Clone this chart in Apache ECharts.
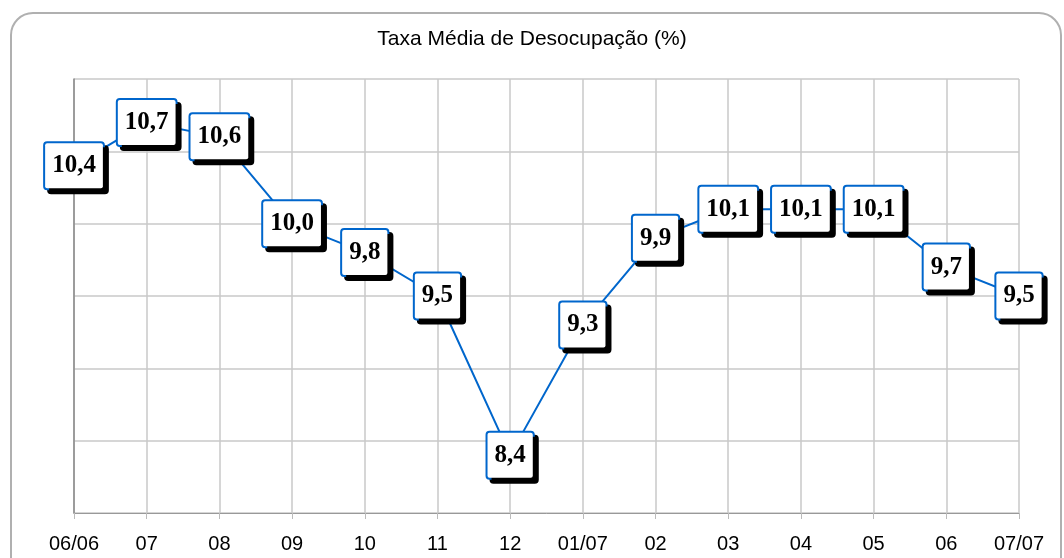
<!DOCTYPE html>
<html>
<head>
<meta charset="utf-8" />
<title>Taxa Média de Desocupação</title>
<script src="https://cdn.jsdelivr.net/npm/echarts@6/dist/echarts.min.js"></script>
<style>
	html, body { margin: 0; padding: 0; background: #fff; }
	#myChart { width: 1064px; height: 558px; }
</style>
</head>
<body>
<div id="myChart"></div>
<script type="text/javascript">
var meses = ['06/06', '07', '08', '09', '10', '11', '12', '01/07', '02', '03', '04', '05', '06', '07/07'];
var taxa = [10.4, 10.7, 10.6, 10.0, 9.8, 9.5, 8.4, 9.3, 9.9, 10.1, 10.1, 10.1, 9.7, 9.5];
var yMin = 8, yMax = 11, yStep = 0.5;

var myChart = echarts.init(document.getElementById('myChart'));
var option = {
	backgroundColor: '#fff',
	animation: false,
	title: {
		text: 'Taxa Média de Desocupação (%)',
		left: 'center', top: 24,
		textStyle: { fontFamily: 'Liberation Sans', fontWeight: 'normal', fontSize: 21, color: '#000' }
	},
	graphic: [{
		type: 'rect',
		shape: { x: 11, y: 13, width: 1050, height: 580, r: 22 },
		style: { fill: 'none', stroke: '#b0b0b0', lineWidth: 2 },
		silent: true, z: -1
	}],
	grid: { left: 74, right: 45, top: 79, bottom: 45, containLabel: false },
	xAxis: {
		type: 'category',
		boundaryGap: false,
		data: meses,
		axisLine: { lineStyle: { color: '#999', width: 1 } },
		axisTick: { show: true, length: 6, lineStyle: { color: '#bbb' } },
		axisLabel: { color: '#000', fontFamily: 'Liberation Sans', fontSize: 20, margin: 21 },
		splitLine: { show: true, lineStyle: { color: '#c8c8c8', width: 1.5 } }
	},
	yAxis: {
		type: 'value',
		min: yMin, max: yMax, interval: yStep,
		axisLine: { show: true, lineStyle: { color: '#888', width: 1.5 } },
		axisTick: { show: false },
		axisLabel: { show: false },
		splitLine: { show: true, lineStyle: { color: '#c8c8c8', width: 1.5 } }
	},
	series: [{
		type: 'line',
		data: taxa,
		symbol: 'rect',
		symbolSize: 1,
		showSymbol: true,
		itemStyle: { color: '#0066cc' },
		lineStyle: { color: '#0066cc', width: 2 },
		label: {
			show: true,
			position: 'inside',
			formatter: function (p) { return p.value.toFixed(1).replace('.', ','); },
			fontFamily: 'Liberation Serif',
			fontWeight: 'bold',
			fontSize: 25,
			color: '#000',
			backgroundColor: '#fff',
			borderColor: '#0066cc',
			borderWidth: 2,
			borderRadius: 2,
			padding: [11, 7, 9, 7],
			shadowColor: '#000',
			shadowOffsetX: 4,
			shadowOffsetY: 4,
			shadowBlur: 0
		}
	}]
};
myChart.setOption(option);
</script>
</body>
</html>
